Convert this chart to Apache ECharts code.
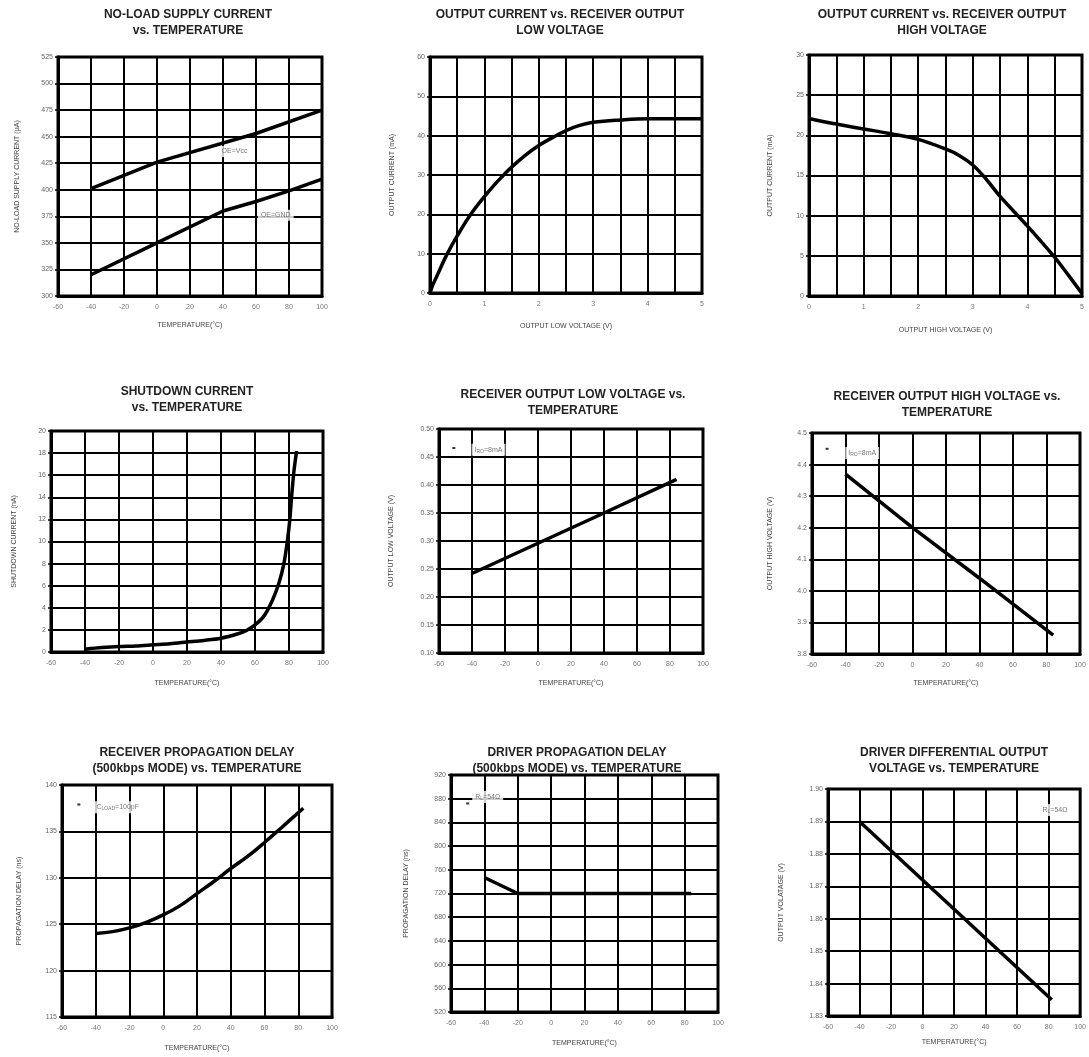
<!DOCTYPE html>
<html>
<head>
<meta charset="utf-8">
<script src="https://cdn.jsdelivr.net/npm/echarts@6/dist/echarts.min.js"></script>
<style>
html, body { margin: 0; padding: 0; background: #fff; }
#main { width: 1089px; height: 1057px; }
</style>
</head>
<body>
<div id="main"></div>
<script>
// values
var supplyVcc = [[-40, 401], [0, 426], [60, 453], [100, 475]];
var supplyGnd = [[-40, 320], [0, 350], [40, 380], [60, 389], [80, 399], [100, 410]];
var lowCurrent = [[0, 0], [0.05, 2], [0.15, 5], [0.3, 9.5], [0.5, 14.5], [0.75, 20], [1, 24.5], [1.25, 28.5],
    [1.5, 32], [1.75, 35], [2, 37.5], [2.25, 39.5], [2.5, 41.3], [2.75, 42.6], [3, 43.4], [3.5, 44],
    [4, 44.3], [5, 44.3]];
var highCurrent = [[0, 22.1], [0.5, 21.4], [1, 20.8], [1.5, 20.2], [2, 19.5], [2.5, 18.3], [2.75, 17.5],
    [3, 16.3], [3.25, 14.5], [3.5, 12.4], [4, 8.7], [4.5, 4.8], [4.75, 2.6], [5, 0.3]];
var shutdown = [[-40, 0.25], [-30, 0.4], [-20, 0.5], [-10, 0.55], [0, 0.65], [10, 0.75], [20, 0.9],
    [30, 1.05], [40, 1.25], [50, 1.65], [55, 1.95], [60, 2.45], [65, 3.2], [70, 4.6], [74, 6.2], [77, 8],
    [79, 10], [80.5, 12], [81.5, 14], [83, 16.5], [84.5, 18.2]];
var volLow = [[-40, 0.242], [0, 0.296], [40, 0.35], [84, 0.41]];
var volHigh = [[-40, 4.37], [0, 4.2], [40, 4.04], [84, 3.86]];
var rxDelay = [[-40, 124], [-30, 124.2], [-20, 124.6], [-10, 125.2], [0, 126], [10, 127], [20, 128.3],
    [30, 129.6], [40, 131], [50, 132.3], [60, 133.8], [70, 135.4], [83, 137.5]];
var txDelay = [[-40, 747], [-20, 720], [84, 720]];
var diffVolt = [[-40, 1.89], [82, 1.835]];

// axis ranges: [min, max, interval]
var tempRange = [-60, 100, 20];
var voltRange = [0, 5, 0.5];
var yRanges = [[300, 525, 25], [0, 60, 10], [0, 30, 5], [0, 20, 2], [0.10, 0.50, 0.05],
    [3.8, 4.5, 0.1], [115, 140, 5], [520, 920, 40], [1.83, 1.90, 0.01]];

var titles = [
    'NO-LOAD SUPPLY CURRENT\nvs. TEMPERATURE',
    'OUTPUT CURRENT vs. RECEIVER OUTPUT\nLOW VOLTAGE',
    'OUTPUT CURRENT vs. RECEIVER OUTPUT\nHIGH VOLTAGE',
    'SHUTDOWN CURRENT\nvs. TEMPERATURE',
    'RECEIVER OUTPUT LOW VOLTAGE vs.\nTEMPERATURE',
    'RECEIVER OUTPUT HIGH VOLTAGE vs.\nTEMPERATURE',
    'RECEIVER PROPAGATION DELAY\n(500kbps MODE) vs. TEMPERATURE',
    'DRIVER PROPAGATION DELAY\n(500kbps MODE) vs. TEMPERATURE',
    'DRIVER DIFFERENTIAL OUTPUT\nVOLTAGE vs. TEMPERATURE'
];
var xNames = ['TEMPERATURE(°C)', 'OUTPUT LOW VOLTAGE (V)', 'OUTPUT HIGH VOLTAGE (V)', 'TEMPERATURE(°C)',
    'TEMPERATURE(°C)', 'TEMPERATURE(°C)', 'TEMPERATURE(°C)', 'TEMPERATURE(°C)', 'TEMPERATURE(°C)'];
var yNames = ['NO-LOAD SUPPLY CURRENT (µA)', 'OUTPUT CURRENT (mA)', 'OUTPUT CURRENT (mA)',
    'SHUTDOWN CURRENT (nA)', 'OUTPUT LOW VOLTAGE (V)', 'OUTPUT HIGH VOLTAGE (V)',
    'PROPAGATION DELAY (ns)', 'PROPAGATION DELAY (ns)', 'OUTPUT VOLATAGE (V)'];

// annotation texts and where they sit (data coords)
var notes = [
    [0, 47, 436, 'OE=Vcc'], [0, 72, 376, 'OE=GND'],
    [4, -30, 0.463, 'I{s|RO}=8mA'], [5, -30, 4.437, 'I{s|RO}=8mA'],
    [6, -27, 137.6, 'C{s|LOAD}=100pF'], [7, -38, 883, 'R{s|L}=54Ω'], [8, 84, 1.8935, 'R{s|L}=54Ω']
];
var dots = [[4, -51, 0.466], [5, -51, 4.45], [6, -50, 137.9], [7, -50, 872]];

var FONT = '"Liberation Sans", Arial, sans-serif';

// plot rectangles [left, top, width, height] and title centre [x, top]
var boxes = [[58, 57, 264, 239], [430, 57, 272, 236], [809, 55, 273, 241],
    [51, 431, 272, 221], [439, 429, 264, 224], [812, 433, 268, 221],
    [62, 785, 270, 232], [451, 775, 267, 237], [828, 789, 256, 227]];
var titlePos = [[188, 7], [560, 7], [942, 7], [187, 384], [573, 387], [947, 389],
    [197, 745], [577, 745], [954, 745]];
var yGaps = [37, 34, 35, 33, 44, 38, 39, 41, 43];
var xGaps = [26, 30, 31, 28, 27, 26, 28, 28, 23];
var yFmt = [null, null, null, null, 2, 1, null, null, 2];

var chart = echarts.init(document.getElementById('main'));

var option = {
    backgroundColor: '#fff',
    animation: false,
    title: [], grid: [], xAxis: [], yAxis: [], series: []
};

for (var i = 0; i < 9; i++) {
    var b = boxes[i];
    option.title.push({
        text: titles[i], left: titlePos[i][0], top: titlePos[i][1], textAlign: 'center', padding: 0,
        textStyle: { fontFamily: FONT, fontSize: 12, fontWeight: 'bold', color: '#222', lineHeight: 16 }
    });
    option.grid.push({
        left: b[0], top: b[1], width: b[2], height: b[3],
        show: true, borderColor: '#000', borderWidth: 3, backgroundColor: '#fff'
    });
    var xr = (i === 1 || i === 2) ? voltRange : tempRange;
    option.xAxis.push({
        type: 'value', gridIndex: i, min: xr[0], max: xr[1], interval: xr[2],
        name: xNames[i], nameLocation: 'middle', nameGap: xGaps[i],
        nameTextStyle: { fontFamily: FONT, fontSize: 7, color: '#444' },
        axisLine: { show: true, onZero: false, lineStyle: { color: '#000', width: 3 } },
        axisTick: { show: false },
        axisLabel: {
            fontFamily: FONT, fontSize: 7, color: '#777', margin: 8,
            formatter: function (v) { return v % 1 === 0 ? String(v) : ''; }
        },
        splitLine: { show: true, lineStyle: { color: '#000', width: 2 } }
    });
    var yr = yRanges[i];
    (function (dec) {
        option.yAxis.push({
            type: 'value', gridIndex: i, min: yr[0], max: yr[1], interval: yr[2],
            name: yNames[i], nameLocation: 'middle', nameGap: yGaps[i], nameRotate: 90,
            nameTextStyle: { fontFamily: FONT, fontSize: 7, color: '#444' },
            axisLine: { show: true, onZero: false, lineStyle: { color: '#000', width: 3 } },
            axisTick: { show: true, length: 3, lineStyle: { color: '#000', width: 1.5 } },
            axisLabel: {
                fontFamily: FONT, fontSize: 7, color: '#666', margin: 5,
                formatter: function (v) { return dec ? v.toFixed(dec) : String(v); }
            },
            splitLine: { show: true, lineStyle: { color: '#000', width: 2 } }
        });
    })(yFmt[i]);
}

function curve(idx, data, smooth) {
    option.series.push({
        type: 'line', xAxisIndex: idx, yAxisIndex: idx, data: data,
        showSymbol: false, smooth: smooth || false,
        lineStyle: { color: '#000', width: 3.5 }, z: 5
    });
}

curve(0, supplyVcc);
curve(0, supplyGnd);
curve(1, lowCurrent, 0.4);
curve(2, highCurrent, 0.4);
curve(3, shutdown, 0.3);
curve(4, volLow);
curve(5, volHigh);
curve(6, rxDelay, 0.4);
curve(7, txDelay);
curve(8, diffVolt);

notes.forEach(function (n) {
    option.series.push({
        type: 'scatter', xAxisIndex: n[0], yAxisIndex: n[0], symbolSize: 0, z: 6,
        data: [[n[1], n[2]]],
        label: {
            show: true, position: 'inside', formatter: n[3],
            fontFamily: FONT, fontSize: 7, color: '#555', backgroundColor: '#fff', padding: [2, 3],
            rich: { s: { fontFamily: FONT, fontSize: 5, color: '#555', verticalAlign: 'bottom', padding: [3, 0, 0, 0] } }
        }
    });
});

dots.forEach(function (d) {
    option.series.push({
        type: 'scatter', xAxisIndex: d[0], yAxisIndex: d[0], symbol: 'rect', symbolSize: [3, 2], z: 7,
        itemStyle: { color: '#000' }, data: [[d[1], d[2]]]
    });
});

chart.setOption(option);
</script>
</body>
</html>
